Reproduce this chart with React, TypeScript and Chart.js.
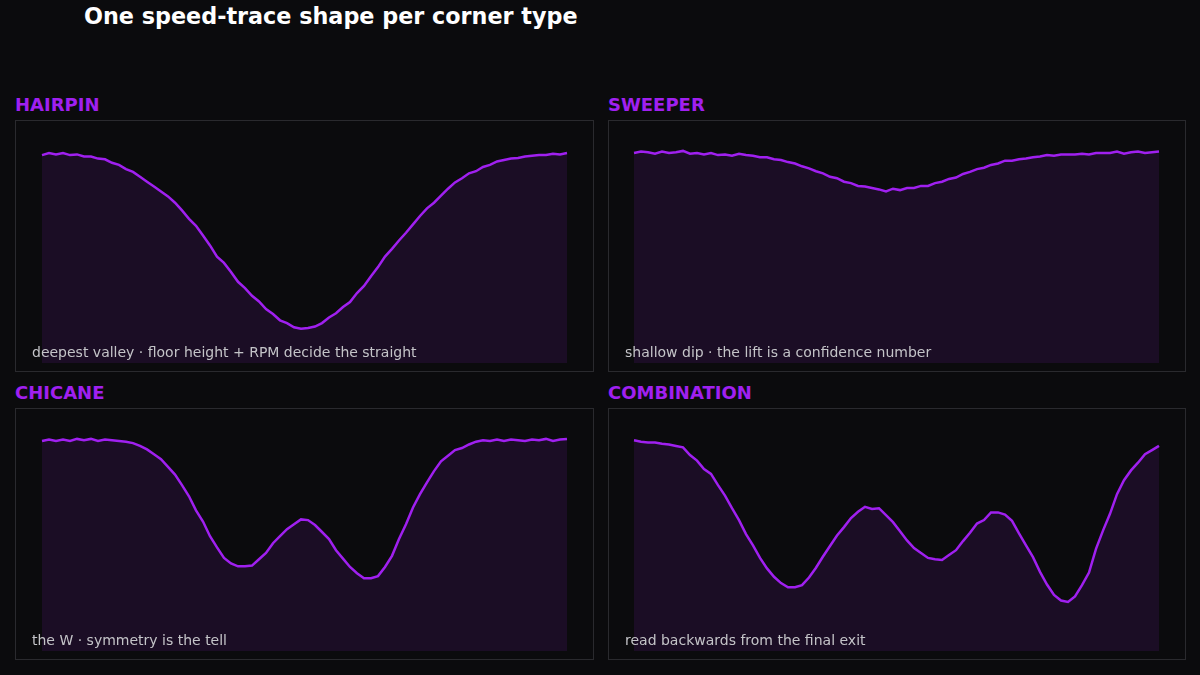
import React, { useEffect, useRef } from "react";
import { Chart, registerables } from "chart.js";

Chart.register(...registerables);

// distance samples (index along the corner)
const distanceIdx: number[] = Array.from({ length: 76 }, (_, i) => i);

// speed traces, km/h
const hairpinSpeed: number[] = [
  297, 300, 298, 300, 297, 298, 295, 295, 292, 291, 286, 283, 277, 273, 266, 259, 252, 245, 238, 229,
  218, 206, 196, 182, 168, 152, 143, 130, 116, 107, 96, 88, 77, 70, 61, 57, 51, 49, 50, 52,
  57, 65, 71, 80, 87, 100, 110, 124, 137, 152, 163, 175, 186, 198, 210, 221, 229, 239, 249, 258,
  264, 271, 274, 280, 283, 288, 290, 292, 293, 295, 296, 297, 297, 299, 298, 300,
];
const sweeperSpeed: number[] = [
  300, 302, 301, 299, 302, 300, 301, 303, 299, 300, 298, 300, 297, 298, 296, 299, 297, 296, 294, 294,
  291, 290, 287, 285, 281, 278, 274, 271, 266, 264, 259, 257, 253, 252, 250, 248, 245, 249, 247, 250,
  250, 253, 253, 257, 259, 263, 265, 270, 273, 277, 279, 283, 285, 289, 289, 291, 292, 294, 295, 297,
  296, 298, 298, 298, 299, 298, 300, 300, 300, 302, 299, 301, 302, 300, 301, 302,
];
const chicaneSpeed: number[] = [
  300, 302, 300, 302, 300, 303, 301, 303, 300, 302, 301, 300, 299, 297, 293, 288, 281, 274, 263, 252,
  237, 221, 201, 185, 164, 148, 133, 125, 121, 121, 122, 131, 140, 154, 164, 174, 181, 188, 187, 180,
  170, 160, 144, 132, 120, 111, 104, 104, 107, 120, 136, 160, 181, 205, 224, 241, 257, 271, 279, 287,
  290, 295, 299, 301, 300, 302, 300, 302, 301, 300, 302, 301, 303, 300, 302, 303,
];
const combinationSpeed: number[] = [
  301, 299, 298, 298, 296, 295, 293, 291, 280, 272, 260, 253, 237, 222, 204, 187, 167, 151, 133, 118,
  106, 97, 91, 91, 94, 105, 119, 135, 150, 165, 177, 190, 199, 206, 203, 204, 194, 184, 171, 158,
  147, 140, 133, 131, 130, 137, 144, 157, 169, 182, 187, 198, 198, 195, 186, 168, 151, 134, 113, 95,
  80, 72, 70, 78, 94, 112, 146, 172, 196, 224, 244, 258, 269, 281, 287, 293,
];

const panelTitles: string[] = ["HAIRPIN", "SWEEPER", "CHICANE", "COMBINATION"];
const panelCaptions: string[] = [
  "deepest valley · floor height + RPM decide the straight",
  "shallow dip · the lift is a confidence number",
  "the W · symmetry is the tell",
  "read backwards from the final exit",
];
const panelSeries: number[][] = [hairpinSpeed, sweeperSpeed, chicaneSpeed, combinationSpeed];

const BG = "#0b0b0d";
const PURPLE = "#a020f0";
const FILL = "#1b0d25";
const BORDER = "#2a2a2e";
const FONT = "'DejaVu Sans', sans-serif";

const BOX_H = 252;

function Panel({ left, top, boxW, padL, title, caption, values }: { left: number; top: number; boxW: number; padL: number; title: string; caption: string; values: number[] }) {
  const ref = useRef<HTMLCanvasElement | null>(null);
  useEffect(() => {
    if (!ref.current) return;
    const chart = new Chart(ref.current, {
      type: "line",
      data: {
        labels: distanceIdx,
        datasets: [
          {
            data: values,
            borderColor: PURPLE,
            borderWidth: 2.5,
            pointRadius: 0,
            tension: 0,
            fill: "start",
            backgroundColor: FILL,
          },
        ],
      },
      options: {
        animation: false,
        responsive: false,
        maintainAspectRatio: false,
        layout: { padding: { left: padL, right: 26, top: 11, bottom: 8 } },
        plugins: { legend: { display: false }, tooltip: { enabled: false } },
        scales: {
          x: { display: false, offset: false },
          y: { display: false, min: 0, max: 330 },
        },
      },
    });
    return () => chart.destroy();
  }, [values]);

  return (
    <>
      <div
        style={{
          position: "absolute",
          left: left,
          top: top - 26,
          font: `bold 18px ${FONT}`,
          color: PURPLE,
          whiteSpace: "nowrap",
        }}
      >
        {title}
      </div>
      <div
        style={{
          position: "absolute",
          left: left,
          top: top,
          width: boxW - 2,
          height: BOX_H - 2,
          border: `1px solid ${BORDER}`,
        }}
      >
        <canvas ref={ref} width={boxW - 2} height={BOX_H - 2} style={{ display: "block" }} />
        <div
          style={{
            position: "absolute",
            left: 16,
            top: 223,
            font: `14px ${FONT}`,
            color: "#c4c4c8",
            whiteSpace: "nowrap",
          }}
        >
          {caption}
        </div>
      </div>
    </>
  );
}

export default function App() {
  const lefts = [15, 608, 15, 608];
  const tops = [120, 120, 408, 408];
  const widths = [579, 578, 579, 578];
  const pads = [26, 25, 26, 25];
  return (
    <div style={{ position: "fixed", left: 0, top: 0, width: 1200, height: 675, background: BG, overflow: "hidden" }}>
      <div
        style={{
          position: "absolute",
          left: 84,
          top: 3,
          font: `bold 22.3px ${FONT}`,
          color: "#ffffff",
          whiteSpace: "nowrap",
        }}
      >
        One speed-trace shape per corner type
      </div>
      {panelTitles.map((t, i) => (
        <Panel key={t} left={lefts[i]} top={tops[i]} boxW={widths[i]} padL={pads[i]} title={t} caption={panelCaptions[i]} values={panelSeries[i]} />
      ))}
    </div>
  );
}
